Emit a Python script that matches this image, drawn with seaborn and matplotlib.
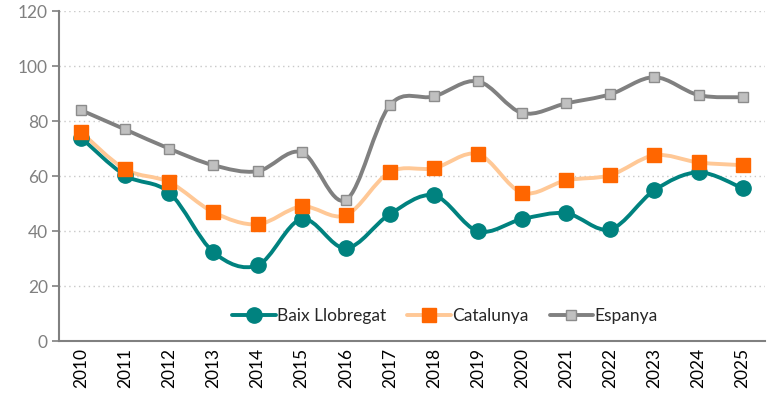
import seaborn as sns
import matplotlib.pyplot as plt
import numpy as np
import pandas as pd
from matplotlib.path import Path
from matplotlib.patches import PathPatch

years = [str(y) for y in range(2010, 2026)]
baix = [74, 60.3, 54, 32.4, 27.6, 44.4, 33.8, 46.2, 53, 40, 44.4, 46.5, 40.7, 54.9, 61.4, 55.6]
catalunya = [76, 62.5, 57.8, 46.9, 42.5, 49, 45.8, 61.5, 62.9, 68, 54, 58.5, 60.4, 67.6, 65, 64]
espanya = [84, 77, 70, 64, 61.8, 68.7, 51.3, 85.8, 89, 94.5, 83, 86.5, 89.8, 96, 89.5, 88.7]

df = pd.DataFrame({"any": years, "Baix Llobregat": baix, "Catalunya": catalunya, "Espanya": espanya})
df["x"] = np.arange(len(years))

sns.set_theme(style="white")
plt.rcParams['font.family'] = ['Lato', 'DejaVu Sans']


def smooth_path(xs, ys, t=1/6):
    # bezier corbes a la manera d'Excel (suavitzat)
    xs = np.asarray(xs, float)
    ys = np.asarray(ys, float)
    verts = [(xs[0], ys[0])]
    codes = [Path.MOVETO]
    n = len(xs)
    for i in range(n - 1):
        p0 = (xs[max(i - 1, 0)], ys[max(i - 1, 0)])
        p1 = (xs[i], ys[i])
        p2 = (xs[i + 1], ys[i + 1])
        p3 = (xs[min(i + 2, n - 1)], ys[min(i + 2, n - 1)])
        c1 = (p1[0] + (p2[0] - p0[0]) * t, p1[1] + (p2[1] - p0[1]) * t)
        c2 = (p2[0] - (p3[0] - p1[0]) * t, p2[1] - (p3[1] - p1[1]) * t)
        verts += [c1, c2, p2]
        codes += [Path.CURVE4] * 3
    return Path(verts, codes)


fig, ax = plt.subplots(figsize=(7.67, 4), dpi=100)
fig.subplots_adjust(left=0.077, right=0.997, top=0.972, bottom=0.147)

series = [
    ("Baix Llobregat", "#00827F", "#00827F", "#00827F", "o", 11),
    ("Catalunya", "#FFC896", "#FF6600", "#FF6600", "s", 10),
    ("Espanya", "#808080", "#C0C0C0", "#8C8C8C", "s", 7),
]

for name, lc, mfc, mec, mk, ms in series:
    ax.add_patch(PathPatch(smooth_path(df["x"], df[name]), facecolor="none",
                           edgecolor=lc, lw=2.8, zorder=2, capstyle="round"))
    sns.lineplot(data=df, x="x", y=name, ax=ax, linestyle="none", marker=mk,
                 markersize=ms, markerfacecolor=mfc, markeredgecolor=mec,
                 markeredgewidth=1, zorder=3)
    ax.plot([], [], color=lc, lw=2.8, marker=mk, markersize=ms,
            markerfacecolor=mfc, markeredgecolor=mec, label=name)

ax.set_xlim(-0.5, len(years) - 0.5)
ax.set_ylim(0, 120)
ax.set_yticks(range(0, 121, 20))
ax.set_xticks(df["x"])
ax.set_xticklabels(years, rotation=90, fontsize=12.5, color="black")
ax.set_xticks(np.arange(-0.5, len(years), 1), minor=True)
ax.tick_params(axis="x", which="major", length=0, pad=5)
ax.tick_params(axis="x", which="minor", length=5, width=1.2, color="#808080", direction="out")
ax.tick_params(axis="y", labelsize=12.5, labelcolor="#808080", length=5, width=1.2,
               color="#808080", direction="out", left=True, pad=3)
ax.set_xlabel("")
ax.set_ylabel("")

ax.grid(axis="y", linestyle=(0, (1, 2.5)), color="#C8C8C8", lw=1)
ax.set_axisbelow(True)
for s in ["top", "right"]:
    ax.spines[s].set_visible(False)
for s in ["left", "bottom"]:
    ax.spines[s].set_color("#808080")
    ax.spines[s].set_linewidth(1.5)

ax.legend(loc="center", bbox_to_anchor=(0.547, 0.076), ncol=3, frameon=False,
          fontsize=12.5, handlelength=2.5, columnspacing=1.2, handletextpad=0.1)

fig.savefig("out.png", dpi=100)
